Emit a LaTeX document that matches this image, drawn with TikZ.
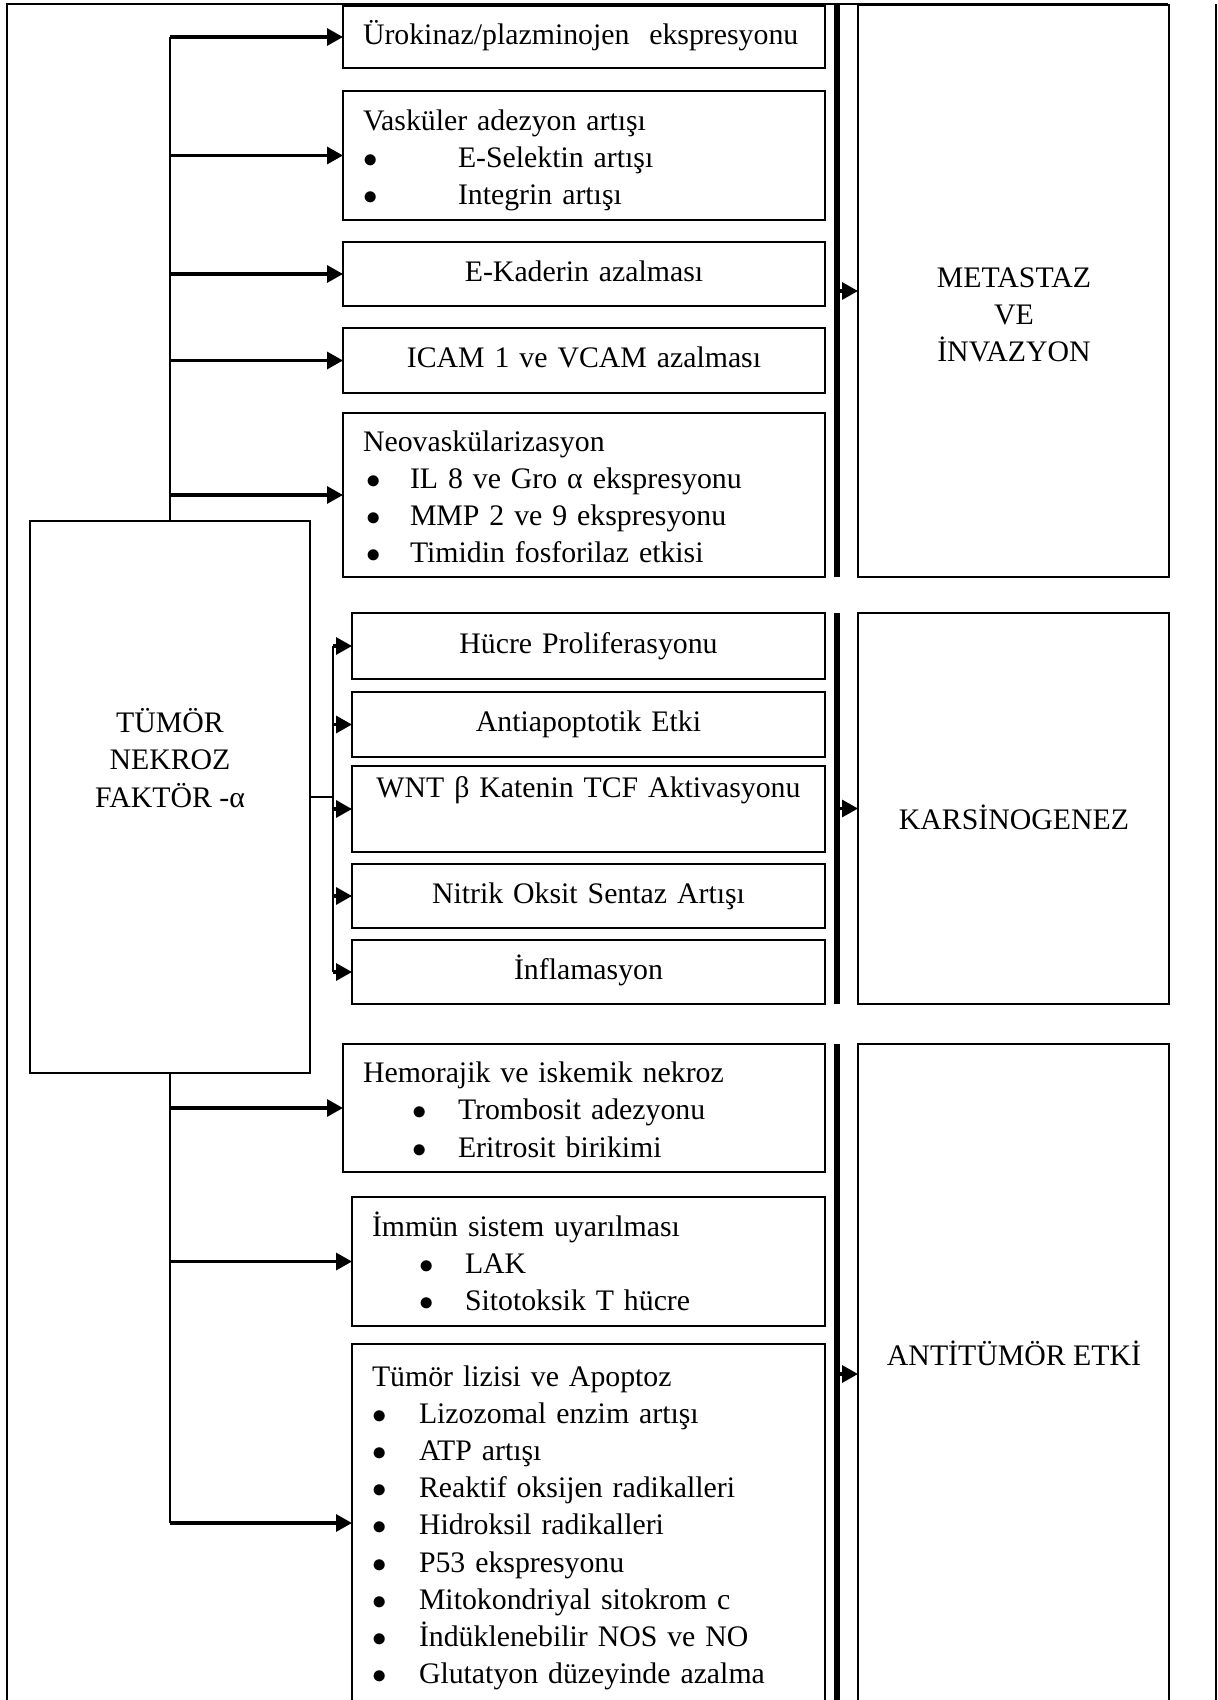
\documentclass[tikz,border=0pt]{standalone}
\usepackage{fontspec}
\setmainfont{Liberation Serif}
\usetikzlibrary{positioning, arrows.meta}
\newcommand\boxfont{\fontsize{14.9pt}{18.6pt}\selectfont}
\newcommand\blt[2]{\hspace*{#1}\makebox[#2][l]{$\bullet$}}
\hyphenpenalty=10000
\tikzset{
  effect/.style={
    draw, line width=0.9pt,
    inner xsep=10pt, inner ysep=0pt, outer sep=0pt,
    font=\boxfont, anchor=north west,
    execute at begin node=\strut, execute at end node=\strut
  },
  list/.style={align=left, execute at begin node=\rule{0pt}{17.4pt}},
  widebox/.style={effect, minimum width=241pt, text width=221pt},
  narrowbox/.style={effect, minimum width=236.5pt, text width=216.5pt},
  resultbox/.style={draw, line width=0.9pt, outer sep=0pt, minimum width=155.5pt, anchor=north west},
  trunk/.style={line width=1.1pt},
  arr/.style={line width=1.6pt, -{Triangle[length=8pt,width=8.5pt]}},
  bar/.style={line width=3pt}
}

\begin{document}
\begin{tikzpicture}[x=0.5pt, y=-0.5pt]
  \clip (0,0) rectangle (1218,1700);
  \draw[line width=1pt] (7,1720) -- (7,4) -- (1168,4);
  \draw[line width=1pt] (1216,4) -- (1216,1720);

  % metastaz ve invazyon
  \node[widebox, align=left, minimum height=31pt] (uro) at (343,6) {\mbox{Ürokinaz/plazminojen~ ekspresyonu}};
  \node[widebox, list, minimum height=64.5pt, below right=11.5pt and 0pt of uro.south west] (vask)
    {Vasküler adezyon artışı\\\blt{0pt}{47.5pt}E-Selektin artışı\\\blt{0pt}{47.5pt}Integrin artışı};
  \node[widebox, align=center, minimum height=32pt, below right=11pt and 0pt of vask.south west] (kad) {E-Kaderin azalması};
  \node[widebox, align=center, minimum height=32.5pt, below right=11pt and 0pt of kad.south west] (icam) {ICAM 1 ve VCAM azalması};
  \node[widebox, list, minimum height=82pt, below right=10pt and 0pt of icam.south west] (neo)
    {Neovaskülarizasyon\\\blt{1.5pt}{22pt}IL 8 ve Gro α ekspresyonu\\\blt{1.5pt}{22pt}MMP 2 ve 9 ekspresyonu\\\blt{1.5pt}{22pt}Timidin fosforilaz etkisi};

  % karsinogenez
  \node[narrowbox, align=center, minimum height=33pt] (huc) at (352,613) {Hücre Proliferasyonu};
  \node[narrowbox, align=center, minimum height=32.5pt, below right=6.5pt and 0pt of huc.south west] (antiapo) {Antiapoptotik Etki};
  \node[narrowbox, align=center, minimum height=43pt, below right=4.5pt and 0pt of antiapo.south west] (wnt) {\mbox{WNT β Katenin TCF Aktivasyonu}\\\mbox{}};
  \node[narrowbox, align=center, minimum height=32pt, below right=6pt and 0pt of wnt.south west] (nit) {Nitrik Oksit Sentaz Artışı};
  \node[narrowbox, align=center, minimum height=32pt, below right=6pt and 0pt of nit.south west] (inf) {İnflamasyon};

  % antitumor etki
  \node[widebox, list, minimum height=64pt] (hem) at (343,1044)
    {Hemorajik ve iskemik nekroz\\\blt{24.5pt}{23pt}Trombosit adezyonu\\\blt{24.5pt}{23pt}Eritrosit birikimi};
  \node[narrowbox, list, minimum height=64.5pt] (imm) at (352,1197)
    {İmmün sistem uyarılması\\\blt{23.5pt}{23pt}LAK\\\blt{23.5pt}{23pt}Sitotoksik T hücre};
  \node[narrowbox, list, minimum height=179pt, below right=9pt and 0pt of imm.south west] (tum)
    {Tümör lizisi ve Apoptoz\\
     \blt{0pt}{23.5pt}Lizozomal enzim artışı\\
     \blt{0pt}{23.5pt}ATP artışı\\
     \blt{0pt}{23.5pt}Reaktif oksijen radikalleri\\
     \blt{0pt}{23.5pt}Hidroksil radikalleri\\
     \blt{0pt}{23.5pt}P53 ekspresyonu\\
     \blt{0pt}{23.5pt}Mitokondriyal sitokrom c\\
     \blt{0pt}{23.5pt}İndüklenebilir NOS ve NO\\
     \blt{0pt}{23.5pt}Glutatyon düzeyinde azalma};

  % result boxes
  \node[resultbox, minimum height=286pt] (meta) at (858,5) {};
  \node[resultbox, minimum height=195.5pt] (kars) at (858,613) {};
  \node[resultbox, minimum height=330pt] (antt) at (858,1044) {};
  \node[font=\boxfont, align=center] (metatxt) at (1014,315) {METASTAZ\\VE\\İNVAZYON};
  \node[font=\boxfont] (karstxt) at (1014,817) {KARSİNOGENEZ};
  \node[font=\boxfont] (antttxt) at (1014,1353) {ANTİTÜMÖR ETKİ};

  % tnf
  \node[draw, line width=0.9pt, outer sep=0pt, minimum width=140pt, minimum height=276pt] (tnf) at (170,797) {};
  \node[font=\boxfont, align=center] (tnftxt) at (170,758) {TÜMÖR\\NEKROZ\\FAKTÖR -α};

  % connectors
  \draw[trunk] (tnf.north) -- (tnf.north |- uro.west);
  \draw[trunk] (tnf.south) -- (tnf.south |- tum.west);
  \foreach \b in {uro,vask,kad,icam,neo,hem,imm,tum}
    \draw[arr] (tnf.north |- \b.west) -- (\b.west);
  \coordinate (bus) at ([xshift=11.5pt]tnf.east);
  \draw[trunk] (tnf.east) -- (bus);
  \draw[trunk] (bus |- huc.west) -- (bus |- inf.west);
  \foreach \b in {huc,antiapo,wnt,nit,inf}
    \draw[arr] (bus |- \b.west) -- (\b.west);
  \foreach \r in {meta,kars,antt} {
    \draw[bar] ([xshift=-10.5pt]\r.north west) -- ([xshift=-10.5pt]\r.south west);
    \draw[arr] ([xshift=-10.5pt]\r.west) -- (\r.west);
  }
\end{tikzpicture}
\end{document}
